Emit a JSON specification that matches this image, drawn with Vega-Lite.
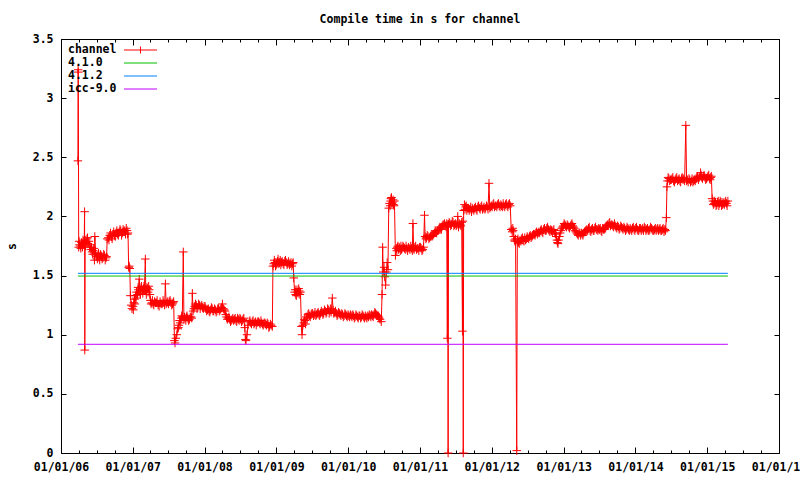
{
  "$schema": "https://vega.github.io/schema/vega-lite/v6.json",
  "autosize": "none",
  "width": 718,
  "height": 414,
  "padding": {"left": 61, "top": 39, "right": 21, "bottom": 27},
  "background": "white",
  "title": {"text": "Compile time in s for channel", "anchor": "middle", "frame": "group", "font": "DejaVu Sans Mono", "fontSize": 11.5, "fontWeight": "bold", "color": "black", "baseline": "middle", "offset": 2},
  "datasets": {
    "ch": [
      {"d":"2006-03-28","v":2.47,"s":"channel"},{"d":"2006-03-29","v":3.24,"s":"channel"},{"d":"2006-03-30","v":3.22,"s":"channel"},
      {"d":"2006-04-01","v":1.74,"s":"channel"},{"d":"2006-04-05","v":1.76,"s":"channel"},{"d":"2006-04-10","v":1.75,"s":"channel"},{"d":"2006-04-15","v":1.78,"s":"channel"},{"d":"2006-04-20","v":1.74,"s":"channel"},{"d":"2006-04-25","v":1.77,"s":"channel"},{"d":"2006-04-29","v":1.76,"s":"channel"},
      {"d":"2006-05-01","v":2.04,"s":"channel"},{"d":"2006-05-02","v":0.87,"s":"channel"},{"d":"2006-05-04","v":1.80,"s":"channel"},{"d":"2006-05-08","v":1.78,"s":"channel"},{"d":"2006-05-13","v":1.81,"s":"channel"},{"d":"2006-05-18","v":1.77,"s":"channel"},{"d":"2006-05-23","v":1.79,"s":"channel"},{"d":"2006-05-28","v":1.76,"s":"channel"},
      {"d":"2006-06-02","v":1.72,"s":"channel"},{"d":"2006-06-08","v":1.70,"s":"channel"},{"d":"2006-06-14","v":1.71,"s":"channel"},{"d":"2006-06-20","v":1.63,"s":"channel"},{"d":"2006-06-22","v":1.83,"s":"channel"},{"d":"2006-06-26","v":1.69,"s":"channel"},
      {"d":"2006-07-02","v":1.66,"s":"channel"},{"d":"2006-07-08","v":1.67,"s":"channel"},{"d":"2006-07-14","v":1.65,"s":"channel"},{"d":"2006-07-20","v":1.68,"s":"channel"},{"d":"2006-07-26","v":1.66,"s":"channel"},
      {"d":"2006-08-02","v":1.65,"s":"channel"},{"d":"2006-08-10","v":1.67,"s":"channel"},{"d":"2006-08-18","v":1.65,"s":"channel"},{"d":"2006-08-24","v":1.81,"s":"channel"},{"d":"2006-08-30","v":1.82,"s":"channel"},
      {"d":"2006-09-06","v":1.84,"s":"channel"},{"d":"2006-09-14","v":1.83,"s":"channel"},{"d":"2006-09-22","v":1.85,"s":"channel"},{"d":"2006-09-30","v":1.84,"s":"channel"},
      {"d":"2006-10-08","v":1.86,"s":"channel"},{"d":"2006-10-16","v":1.85,"s":"channel"},{"d":"2006-10-24","v":1.87,"s":"channel"},
      {"d":"2006-11-01","v":1.88,"s":"channel"},{"d":"2006-11-09","v":1.86,"s":"channel"},{"d":"2006-11-17","v":1.87,"s":"channel"},{"d":"2006-11-25","v":1.85,"s":"channel"},
      {"d":"2006-12-03","v":1.88,"s":"channel"},{"d":"2006-12-08","v":1.86,"s":"channel"},{"d":"2006-12-11","v":1.57,"s":"channel"},{"d":"2006-12-14","v":1.58,"s":"channel"},{"d":"2006-12-17","v":1.56,"s":"channel"},{"d":"2006-12-20","v":1.33,"s":"channel"},{"d":"2006-12-24","v":1.25,"s":"channel"},{"d":"2006-12-28","v":1.22,"s":"channel"},
      {"d":"2007-01-02","v":1.24,"s":"channel"},{"d":"2007-01-06","v":1.27,"s":"channel"},{"d":"2007-01-10","v":1.30,"s":"channel"},{"d":"2007-01-15","v":1.33,"s":"channel"},{"d":"2007-01-20","v":1.36,"s":"channel"},{"d":"2007-01-25","v":1.34,"s":"channel"},{"d":"2007-01-30","v":1.38,"s":"channel"},
      {"d":"2007-02-03","v":1.47,"s":"channel"},{"d":"2007-02-06","v":1.36,"s":"channel"},{"d":"2007-02-12","v":1.40,"s":"channel"},{"d":"2007-02-18","v":1.37,"s":"channel"},{"d":"2007-02-24","v":1.39,"s":"channel"},
      {"d":"2007-03-01","v":1.38,"s":"channel"},{"d":"2007-03-06","v":1.64,"s":"channel"},{"d":"2007-03-08","v":1.37,"s":"channel"},{"d":"2007-03-14","v":1.40,"s":"channel"},{"d":"2007-03-20","v":1.36,"s":"channel"},{"d":"2007-03-26","v":1.38,"s":"channel"},
      {"d":"2007-04-01","v":1.29,"s":"channel"},{"d":"2007-04-08","v":1.27,"s":"channel"},{"d":"2007-04-15","v":1.26,"s":"channel"},{"d":"2007-04-22","v":1.28,"s":"channel"},
      {"d":"2007-05-01","v":1.27,"s":"channel"},{"d":"2007-05-10","v":1.25,"s":"channel"},{"d":"2007-05-20","v":1.28,"s":"channel"},{"d":"2007-05-30","v":1.26,"s":"channel"},
      {"d":"2007-06-08","v":1.27,"s":"channel"},{"d":"2007-06-16","v":1.43,"s":"channel"},{"d":"2007-06-20","v":1.26,"s":"channel"},{"d":"2007-06-28","v":1.28,"s":"channel"},
      {"d":"2007-07-06","v":1.28,"s":"channel"},{"d":"2007-07-14","v":1.27,"s":"channel"},{"d":"2007-07-22","v":1.26,"s":"channel"},{"d":"2007-07-28","v":1.28,"s":"channel"},
      {"d":"2007-08-01","v":0.95,"s":"channel"},{"d":"2007-08-04","v":0.93,"s":"channel"},{"d":"2007-08-08","v":0.97,"s":"channel"},{"d":"2007-08-13","v":1.00,"s":"channel"},{"d":"2007-08-18","v":1.05,"s":"channel"},{"d":"2007-08-24","v":1.08,"s":"channel"},{"d":"2007-08-30","v":1.10,"s":"channel"},
      {"d":"2007-09-05","v":1.14,"s":"channel"},{"d":"2007-09-10","v":1.15,"s":"channel"},{"d":"2007-09-15","v":1.70,"s":"channel"},{"d":"2007-09-18","v":1.13,"s":"channel"},{"d":"2007-09-24","v":1.14,"s":"channel"},
      {"d":"2007-10-01","v":1.15,"s":"channel"},{"d":"2007-10-08","v":1.14,"s":"channel"},{"d":"2007-10-16","v":1.13,"s":"channel"},{"d":"2007-10-24","v":1.15,"s":"channel"},{"d":"2007-10-31","v":1.35,"s":"channel"},
      {"d":"2007-11-04","v":1.20,"s":"channel"},{"d":"2007-11-12","v":1.24,"s":"channel"},{"d":"2007-11-20","v":1.25,"s":"channel"},{"d":"2007-11-28","v":1.23,"s":"channel"},
      {"d":"2007-12-06","v":1.25,"s":"channel"},{"d":"2007-12-14","v":1.24,"s":"channel"},{"d":"2007-12-22","v":1.23,"s":"channel"},{"d":"2007-12-30","v":1.24,"s":"channel"},
      {"d":"2008-01-08","v":1.22,"s":"channel"},{"d":"2008-01-16","v":1.21,"s":"channel"},{"d":"2008-01-24","v":1.20,"s":"channel"},
      {"d":"2008-02-01","v":1.21,"s":"channel"},{"d":"2008-02-09","v":1.22,"s":"channel"},{"d":"2008-02-17","v":1.20,"s":"channel"},{"d":"2008-02-25","v":1.21,"s":"channel"},
      {"d":"2008-03-04","v":1.20,"s":"channel"},{"d":"2008-03-12","v":1.22,"s":"channel"},{"d":"2008-03-20","v":1.21,"s":"channel"},{"d":"2008-03-28","v":1.23,"s":"channel"},
      {"d":"2008-04-01","v":1.26,"s":"channel"},{"d":"2008-04-06","v":1.22,"s":"channel"},{"d":"2008-04-14","v":1.20,"s":"channel"},{"d":"2008-04-22","v":1.15,"s":"channel"},{"d":"2008-04-30","v":1.14,"s":"channel"},
      {"d":"2008-05-08","v":1.13,"s":"channel"},{"d":"2008-05-16","v":1.12,"s":"channel"},{"d":"2008-05-24","v":1.14,"s":"channel"},
      {"d":"2008-06-01","v":1.13,"s":"channel"},{"d":"2008-06-09","v":1.12,"s":"channel"},{"d":"2008-06-17","v":1.14,"s":"channel"},{"d":"2008-06-25","v":1.12,"s":"channel"},
      {"d":"2008-07-03","v":1.13,"s":"channel"},{"d":"2008-07-11","v":1.12,"s":"channel"},{"d":"2008-07-19","v":1.14,"s":"channel"},{"d":"2008-07-24","v":1.06,"s":"channel"},{"d":"2008-07-27","v":0.96,"s":"channel"},{"d":"2008-07-30","v":0.95,"s":"channel"},
      {"d":"2008-08-04","v":1.00,"s":"channel"},{"d":"2008-08-09","v":1.08,"s":"channel"},{"d":"2008-08-15","v":1.11,"s":"channel"},{"d":"2008-08-23","v":1.10,"s":"channel"},{"d":"2008-08-31","v":1.11,"s":"channel"},
      {"d":"2008-09-08","v":1.09,"s":"channel"},{"d":"2008-09-16","v":1.11,"s":"channel"},{"d":"2008-09-24","v":1.10,"s":"channel"},
      {"d":"2008-10-02","v":1.11,"s":"channel"},{"d":"2008-10-10","v":1.09,"s":"channel"},{"d":"2008-10-18","v":1.10,"s":"channel"},{"d":"2008-10-26","v":1.08,"s":"channel"},
      {"d":"2008-11-03","v":1.10,"s":"channel"},{"d":"2008-11-11","v":1.08,"s":"channel"},{"d":"2008-11-19","v":1.09,"s":"channel"},{"d":"2008-11-27","v":1.07,"s":"channel"},
      {"d":"2008-12-05","v":1.08,"s":"channel"},{"d":"2008-12-11","v":1.07,"s":"channel"},{"d":"2008-12-14","v":1.58,"s":"channel"},{"d":"2008-12-18","v":1.60,"s":"channel"},{"d":"2008-12-24","v":1.61,"s":"channel"},{"d":"2008-12-30","v":1.59,"s":"channel"},
      {"d":"2009-01-06","v":1.62,"s":"channel"},{"d":"2009-01-13","v":1.60,"s":"channel"},{"d":"2009-01-20","v":1.63,"s":"channel"},{"d":"2009-01-27","v":1.61,"s":"channel"},
      {"d":"2009-02-04","v":1.60,"s":"channel"},{"d":"2009-02-12","v":1.62,"s":"channel"},{"d":"2009-02-20","v":1.61,"s":"channel"},{"d":"2009-02-28","v":1.60,"s":"channel"},
      {"d":"2009-03-08","v":1.59,"s":"channel"},{"d":"2009-03-16","v":1.61,"s":"channel"},{"d":"2009-03-24","v":1.60,"s":"channel"},{"d":"2009-03-30","v":1.48,"s":"channel"},
      {"d":"2009-04-03","v":1.36,"s":"channel"},{"d":"2009-04-09","v":1.34,"s":"channel"},{"d":"2009-04-15","v":1.38,"s":"channel"},{"d":"2009-04-21","v":1.35,"s":"channel"},{"d":"2009-04-27","v":1.37,"s":"channel"},
      {"d":"2009-05-03","v":1.36,"s":"channel"},{"d":"2009-05-08","v":1.07,"s":"channel"},{"d":"2009-05-11","v":1.00,"s":"channel"},{"d":"2009-05-15","v":1.08,"s":"channel"},{"d":"2009-05-20","v":1.10,"s":"channel"},{"d":"2009-05-26","v":1.12,"s":"channel"},
      {"d":"2009-06-02","v":1.15,"s":"channel"},{"d":"2009-06-10","v":1.17,"s":"channel"},{"d":"2009-06-18","v":1.16,"s":"channel"},{"d":"2009-06-26","v":1.17,"s":"channel"},
      {"d":"2009-07-04","v":1.18,"s":"channel"},{"d":"2009-07-12","v":1.17,"s":"channel"},{"d":"2009-07-20","v":1.16,"s":"channel"},{"d":"2009-07-28","v":1.18,"s":"channel"},
      {"d":"2009-08-05","v":1.17,"s":"channel"},{"d":"2009-08-13","v":1.18,"s":"channel"},{"d":"2009-08-21","v":1.19,"s":"channel"},{"d":"2009-08-29","v":1.18,"s":"channel"},
      {"d":"2009-09-06","v":1.20,"s":"channel"},{"d":"2009-09-14","v":1.19,"s":"channel"},{"d":"2009-09-22","v":1.21,"s":"channel"},{"d":"2009-09-30","v":1.20,"s":"channel"},
      {"d":"2009-10-06","v":1.19,"s":"channel"},{"d":"2009-10-12","v":1.31,"s":"channel"},{"d":"2009-10-16","v":1.21,"s":"channel"},{"d":"2009-10-24","v":1.19,"s":"channel"},
      {"d":"2009-11-01","v":1.18,"s":"channel"},{"d":"2009-11-09","v":1.17,"s":"channel"},{"d":"2009-11-17","v":1.18,"s":"channel"},{"d":"2009-11-25","v":1.16,"s":"channel"},
      {"d":"2009-12-03","v":1.17,"s":"channel"},{"d":"2009-12-11","v":1.16,"s":"channel"},{"d":"2009-12-19","v":1.17,"s":"channel"},{"d":"2009-12-27","v":1.15,"s":"channel"},
      {"d":"2010-01-04","v":1.16,"s":"channel"},{"d":"2010-01-12","v":1.17,"s":"channel"},{"d":"2010-01-20","v":1.15,"s":"channel"},{"d":"2010-01-28","v":1.16,"s":"channel"},
      {"d":"2010-02-05","v":1.15,"s":"channel"},{"d":"2010-02-13","v":1.16,"s":"channel"},{"d":"2010-02-21","v":1.14,"s":"channel"},
      {"d":"2010-03-01","v":1.16,"s":"channel"},{"d":"2010-03-09","v":1.15,"s":"channel"},{"d":"2010-03-17","v":1.16,"s":"channel"},{"d":"2010-03-25","v":1.14,"s":"channel"},
      {"d":"2010-04-02","v":1.15,"s":"channel"},{"d":"2010-04-10","v":1.16,"s":"channel"},{"d":"2010-04-18","v":1.17,"s":"channel"},{"d":"2010-04-26","v":1.15,"s":"channel"},
      {"d":"2010-05-04","v":1.16,"s":"channel"},{"d":"2010-05-12","v":1.17,"s":"channel"},{"d":"2010-05-20","v":1.18,"s":"channel"},{"d":"2010-05-28","v":1.16,"s":"channel"},
      {"d":"2010-06-05","v":1.15,"s":"channel"},{"d":"2010-06-12","v":1.13,"s":"channel"},{"d":"2010-06-18","v":1.11,"s":"channel"},{"d":"2010-06-22","v":1.34,"s":"channel"},{"d":"2010-06-25","v":1.74,"s":"channel"},{"d":"2010-06-28","v":1.53,"s":"channel"},
      {"d":"2010-07-02","v":1.57,"s":"channel"},{"d":"2010-07-06","v":1.49,"s":"channel"},{"d":"2010-07-10","v":1.42,"s":"channel"},{"d":"2010-07-14","v":1.53,"s":"channel"},{"d":"2010-07-18","v":1.61,"s":"channel"},{"d":"2010-07-22","v":1.55,"s":"channel"},{"d":"2010-07-26","v":2.07,"s":"channel"},{"d":"2010-07-30","v":2.11,"s":"channel"},
      {"d":"2010-08-04","v":2.13,"s":"channel"},{"d":"2010-08-09","v":2.16,"s":"channel"},{"d":"2010-08-14","v":2.12,"s":"channel"},{"d":"2010-08-19","v":2.10,"s":"channel"},{"d":"2010-08-24","v":2.13,"s":"channel"},{"d":"2010-08-29","v":1.67,"s":"channel"},
      {"d":"2010-09-03","v":1.73,"s":"channel"},{"d":"2010-09-08","v":1.74,"s":"channel"},{"d":"2010-09-14","v":1.72,"s":"channel"},{"d":"2010-09-20","v":1.73,"s":"channel"},{"d":"2010-09-26","v":1.75,"s":"channel"},
      {"d":"2010-10-02","v":1.73,"s":"channel"},{"d":"2010-10-10","v":1.74,"s":"channel"},{"d":"2010-10-18","v":1.72,"s":"channel"},{"d":"2010-10-26","v":1.73,"s":"channel"},
      {"d":"2010-11-03","v":1.74,"s":"channel"},{"d":"2010-11-11","v":1.72,"s":"channel"},{"d":"2010-11-19","v":1.73,"s":"channel"},{"d":"2010-11-26","v":1.94,"s":"channel"},{"d":"2010-11-30","v":1.73,"s":"channel"},
      {"d":"2010-12-06","v":1.74,"s":"channel"},{"d":"2010-12-14","v":1.72,"s":"channel"},{"d":"2010-12-22","v":1.73,"s":"channel"},{"d":"2010-12-30","v":1.74,"s":"channel"},
      {"d":"2011-01-07","v":1.73,"s":"channel"},{"d":"2011-01-15","v":1.72,"s":"channel"},{"d":"2011-01-24","v":2.01,"s":"channel"},{"d":"2011-01-27","v":1.83,"s":"channel"},
      {"d":"2011-02-03","v":1.82,"s":"channel"},{"d":"2011-02-11","v":1.83,"s":"channel"},{"d":"2011-02-19","v":1.82,"s":"channel"},{"d":"2011-02-27","v":1.84,"s":"channel"},
      {"d":"2011-03-07","v":1.84,"s":"channel"},{"d":"2011-03-15","v":1.86,"s":"channel"},{"d":"2011-03-23","v":1.87,"s":"channel"},{"d":"2011-03-31","v":1.88,"s":"channel"},
      {"d":"2011-04-08","v":1.89,"s":"channel"},{"d":"2011-04-16","v":1.90,"s":"channel"},{"d":"2011-04-24","v":1.92,"s":"channel"},
      {"d":"2011-05-02","v":1.93,"s":"channel"},{"d":"2011-05-10","v":1.92,"s":"channel"},{"d":"2011-05-17","v":1.94,"s":"channel"},{"d":"2011-05-20","v":0.97,"s":"channel"},{"d":"2011-05-22","v":1.93,"s":"channel"},{"d":"2011-05-24","v":0.00,"s":"channel"},{"d":"2011-05-26","v":1.93,"s":"channel"},
      {"d":"2011-06-02","v":1.94,"s":"channel"},{"d":"2011-06-10","v":1.93,"s":"channel"},{"d":"2011-06-18","v":1.95,"s":"channel"},{"d":"2011-06-26","v":1.93,"s":"channel"},
      {"d":"2011-07-04","v":1.92,"s":"channel"},{"d":"2011-07-12","v":2.00,"s":"channel"},{"d":"2011-07-16","v":1.91,"s":"channel"},{"d":"2011-07-24","v":1.93,"s":"channel"},
      {"d":"2011-08-01","v":1.95,"s":"channel"},{"d":"2011-08-05","v":1.03,"s":"channel"},{"d":"2011-08-07","v":1.96,"s":"channel"},{"d":"2011-08-09","v":0.00,"s":"channel"},{"d":"2011-08-11","v":2.05,"s":"channel"},{"d":"2011-08-15","v":2.10,"s":"channel"},{"d":"2011-08-21","v":2.08,"s":"channel"},{"d":"2011-08-27","v":2.05,"s":"channel"},
      {"d":"2011-09-04","v":2.07,"s":"channel"},{"d":"2011-09-12","v":2.06,"s":"channel"},{"d":"2011-09-20","v":2.04,"s":"channel"},{"d":"2011-09-28","v":2.06,"s":"channel"},
      {"d":"2011-10-06","v":2.07,"s":"channel"},{"d":"2011-10-14","v":2.06,"s":"channel"},{"d":"2011-10-22","v":2.08,"s":"channel"},{"d":"2011-10-30","v":2.07,"s":"channel"},
      {"d":"2011-11-07","v":2.08,"s":"channel"},{"d":"2011-11-15","v":2.06,"s":"channel"},{"d":"2011-11-23","v":2.08,"s":"channel"},
      {"d":"2011-12-01","v":2.07,"s":"channel"},{"d":"2011-12-09","v":2.08,"s":"channel"},{"d":"2011-12-18","v":2.28,"s":"channel"},{"d":"2011-12-22","v":2.07,"s":"channel"},{"d":"2011-12-30","v":2.09,"s":"channel"},
      {"d":"2012-01-07","v":2.10,"s":"channel"},{"d":"2012-01-15","v":2.08,"s":"channel"},{"d":"2012-01-23","v":2.09,"s":"channel"},{"d":"2012-01-31","v":2.10,"s":"channel"},
      {"d":"2012-02-08","v":2.09,"s":"channel"},{"d":"2012-02-16","v":2.10,"s":"channel"},{"d":"2012-02-24","v":2.08,"s":"channel"},
      {"d":"2012-03-03","v":2.09,"s":"channel"},{"d":"2012-03-11","v":2.10,"s":"channel"},{"d":"2012-03-19","v":2.09,"s":"channel"},{"d":"2012-03-27","v":2.10,"s":"channel"},
      {"d":"2012-04-04","v":2.09,"s":"channel"},{"d":"2012-04-09","v":1.89,"s":"channel"},{"d":"2012-04-14","v":1.87,"s":"channel"},{"d":"2012-04-19","v":1.88,"s":"channel"},{"d":"2012-04-25","v":1.80,"s":"channel"},
      {"d":"2012-05-01","v":1.81,"s":"channel"},{"d":"2012-05-07","v":0.02,"s":"channel"},{"d":"2012-05-10","v":1.79,"s":"channel"},{"d":"2012-05-16","v":1.78,"s":"channel"},{"d":"2012-05-24","v":1.80,"s":"channel"},
      {"d":"2012-06-01","v":1.81,"s":"channel"},{"d":"2012-06-09","v":1.80,"s":"channel"},{"d":"2012-06-17","v":1.82,"s":"channel"},{"d":"2012-06-25","v":1.81,"s":"channel"},
      {"d":"2012-07-03","v":1.82,"s":"channel"},{"d":"2012-07-11","v":1.83,"s":"channel"},{"d":"2012-07-19","v":1.82,"s":"channel"},{"d":"2012-07-27","v":1.84,"s":"channel"},
      {"d":"2012-08-04","v":1.85,"s":"channel"},{"d":"2012-08-12","v":1.86,"s":"channel"},{"d":"2012-08-20","v":1.85,"s":"channel"},{"d":"2012-08-28","v":1.87,"s":"channel"},
      {"d":"2012-09-05","v":1.88,"s":"channel"},{"d":"2012-09-13","v":1.87,"s":"channel"},{"d":"2012-09-21","v":1.89,"s":"channel"},{"d":"2012-09-29","v":1.88,"s":"channel"},
      {"d":"2012-10-07","v":1.90,"s":"channel"},{"d":"2012-10-15","v":1.89,"s":"channel"},{"d":"2012-10-23","v":1.87,"s":"channel"},{"d":"2012-10-31","v":1.88,"s":"channel"},
      {"d":"2012-11-08","v":1.88,"s":"channel"},{"d":"2012-11-16","v":1.86,"s":"channel"},{"d":"2012-11-24","v":1.83,"s":"channel"},{"d":"2012-11-30","v":1.78,"s":"channel"},
      {"d":"2012-12-06","v":1.80,"s":"channel"},{"d":"2012-12-14","v":1.86,"s":"channel"},{"d":"2012-12-22","v":1.90,"s":"channel"},{"d":"2012-12-30","v":1.92,"s":"channel"},
      {"d":"2013-01-07","v":1.93,"s":"channel"},{"d":"2013-01-15","v":1.91,"s":"channel"},{"d":"2013-01-23","v":1.92,"s":"channel"},{"d":"2013-01-31","v":1.90,"s":"channel"},
      {"d":"2013-02-08","v":1.93,"s":"channel"},{"d":"2013-02-16","v":1.92,"s":"channel"},{"d":"2013-02-24","v":1.90,"s":"channel"},
      {"d":"2013-03-04","v":1.87,"s":"channel"},{"d":"2013-03-12","v":1.85,"s":"channel"},{"d":"2013-03-20","v":1.86,"s":"channel"},{"d":"2013-03-28","v":1.84,"s":"channel"},
      {"d":"2013-04-05","v":1.85,"s":"channel"},{"d":"2013-04-13","v":1.86,"s":"channel"},{"d":"2013-04-21","v":1.87,"s":"channel"},{"d":"2013-04-29","v":1.89,"s":"channel"},
      {"d":"2013-05-07","v":1.90,"s":"channel"},{"d":"2013-05-15","v":1.88,"s":"channel"},{"d":"2013-05-23","v":1.89,"s":"channel"},{"d":"2013-05-31","v":1.88,"s":"channel"},
      {"d":"2013-06-08","v":1.90,"s":"channel"},{"d":"2013-06-16","v":1.89,"s":"channel"},{"d":"2013-06-24","v":1.88,"s":"channel"},
      {"d":"2013-07-02","v":1.89,"s":"channel"},{"d":"2013-07-10","v":1.88,"s":"channel"},{"d":"2013-07-18","v":1.90,"s":"channel"},{"d":"2013-07-26","v":1.89,"s":"channel"},
      {"d":"2013-08-03","v":1.91,"s":"channel"},{"d":"2013-08-11","v":1.93,"s":"channel"},{"d":"2013-08-19","v":1.94,"s":"channel"},{"d":"2013-08-27","v":1.92,"s":"channel"},
      {"d":"2013-09-04","v":1.93,"s":"channel"},{"d":"2013-09-12","v":1.91,"s":"channel"},{"d":"2013-09-20","v":1.92,"s":"channel"},{"d":"2013-09-28","v":1.90,"s":"channel"},
      {"d":"2013-10-06","v":1.91,"s":"channel"},{"d":"2013-10-14","v":1.90,"s":"channel"},{"d":"2013-10-22","v":1.91,"s":"channel"},{"d":"2013-10-30","v":1.89,"s":"channel"},
      {"d":"2013-11-07","v":1.90,"s":"channel"},{"d":"2013-11-15","v":1.89,"s":"channel"},{"d":"2013-11-23","v":1.90,"s":"channel"},
      {"d":"2013-12-01","v":1.88,"s":"channel"},{"d":"2013-12-09","v":1.89,"s":"channel"},{"d":"2013-12-17","v":1.90,"s":"channel"},{"d":"2013-12-25","v":1.89,"s":"channel"},
      {"d":"2014-01-02","v":1.90,"s":"channel"},{"d":"2014-01-10","v":1.89,"s":"channel"},{"d":"2014-01-18","v":1.88,"s":"channel"},{"d":"2014-01-26","v":1.90,"s":"channel"},
      {"d":"2014-02-03","v":1.89,"s":"channel"},{"d":"2014-02-11","v":1.88,"s":"channel"},{"d":"2014-02-19","v":1.90,"s":"channel"},{"d":"2014-02-27","v":1.89,"s":"channel"},
      {"d":"2014-03-07","v":1.88,"s":"channel"},{"d":"2014-03-15","v":1.89,"s":"channel"},{"d":"2014-03-23","v":1.90,"s":"channel"},{"d":"2014-03-31","v":1.88,"s":"channel"},
      {"d":"2014-04-08","v":1.89,"s":"channel"},{"d":"2014-04-16","v":1.88,"s":"channel"},{"d":"2014-04-24","v":1.90,"s":"channel"},
      {"d":"2014-05-02","v":1.89,"s":"channel"},{"d":"2014-05-10","v":1.88,"s":"channel"},{"d":"2014-05-18","v":1.89,"s":"channel"},{"d":"2014-05-26","v":1.87,"s":"channel"},
      {"d":"2014-06-03","v":1.88,"s":"channel"},{"d":"2014-06-07","v":1.99,"s":"channel"},{"d":"2014-06-10","v":2.25,"s":"channel"},{"d":"2014-06-13","v":2.30,"s":"channel"},{"d":"2014-06-20","v":2.32,"s":"channel"},{"d":"2014-06-28","v":2.31,"s":"channel"},
      {"d":"2014-07-06","v":2.32,"s":"channel"},{"d":"2014-07-14","v":2.30,"s":"channel"},{"d":"2014-07-22","v":2.31,"s":"channel"},{"d":"2014-07-30","v":2.33,"s":"channel"},
      {"d":"2014-08-07","v":2.31,"s":"channel"},{"d":"2014-08-15","v":2.30,"s":"channel"},{"d":"2014-08-23","v":2.32,"s":"channel"},{"d":"2014-08-31","v":2.31,"s":"channel"},
      {"d":"2014-09-08","v":2.30,"s":"channel"},{"d":"2014-09-14","v":2.77,"s":"channel"},{"d":"2014-09-18","v":2.30,"s":"channel"},{"d":"2014-09-26","v":2.29,"s":"channel"},
      {"d":"2014-10-04","v":2.31,"s":"channel"},{"d":"2014-10-12","v":2.30,"s":"channel"},{"d":"2014-10-20","v":2.29,"s":"channel"},{"d":"2014-10-28","v":2.31,"s":"channel"},
      {"d":"2014-11-05","v":2.32,"s":"channel"},{"d":"2014-11-13","v":2.34,"s":"channel"},{"d":"2014-11-21","v":2.33,"s":"channel"},{"d":"2014-11-28","v":2.37,"s":"channel"},
      {"d":"2014-12-04","v":2.33,"s":"channel"},{"d":"2014-12-12","v":2.34,"s":"channel"},{"d":"2014-12-20","v":2.33,"s":"channel"},{"d":"2014-12-28","v":2.32,"s":"channel"},
      {"d":"2015-01-05","v":2.34,"s":"channel"},{"d":"2015-01-12","v":2.32,"s":"channel"},{"d":"2015-01-19","v":2.33,"s":"channel"},{"d":"2015-01-26","v":2.15,"s":"channel"},{"d":"2015-01-30","v":2.13,"s":"channel"},
      {"d":"2015-02-05","v":2.11,"s":"channel"},{"d":"2015-02-12","v":2.12,"s":"channel"},{"d":"2015-02-19","v":2.10,"s":"channel"},{"d":"2015-02-26","v":2.13,"s":"channel"},
      {"d":"2015-03-05","v":2.11,"s":"channel"},{"d":"2015-03-12","v":2.12,"s":"channel"},{"d":"2015-03-19","v":2.10,"s":"channel"},{"d":"2015-03-26","v":2.11,"s":"channel"},
      {"d":"2015-04-02","v":2.12,"s":"channel"},{"d":"2015-04-09","v":2.11,"s":"channel"},{"d":"2015-04-16","v":2.13,"s":"channel"},
      {"d":"2006-04-03","v":1.79,"s":"channel"},{"d":"2006-04-12","v":1.73,"s":"channel"},{"d":"2006-04-23","v":1.80,"s":"channel"},{"d":"2006-05-06","v":1.75,"s":"channel"},{"d":"2006-05-16","v":1.82,"s":"channel"},{"d":"2006-05-26","v":1.74,"s":"channel"},
      {"d":"2006-06-05","v":1.74,"s":"channel"},{"d":"2006-06-11","v":1.68,"s":"channel"},{"d":"2006-06-17","v":1.73,"s":"channel"},{"d":"2006-07-05","v":1.64,"s":"channel"},{"d":"2006-07-11","v":1.69,"s":"channel"},{"d":"2006-07-17","v":1.63,"s":"channel"},
      {"d":"2006-07-23","v":1.67,"s":"channel"},{"d":"2006-07-29","v":1.64,"s":"channel"},{"d":"2006-08-06","v":1.68,"s":"channel"},{"d":"2006-08-14","v":1.63,"s":"channel"},{"d":"2006-08-21","v":1.66,"s":"channel"},
      {"d":"2006-09-02","v":1.80,"s":"channel"},{"d":"2006-09-10","v":1.86,"s":"channel"},{"d":"2006-09-18","v":1.81,"s":"channel"},{"d":"2006-09-26","v":1.87,"s":"channel"},{"d":"2006-10-04","v":1.83,"s":"channel"},
      {"d":"2006-10-12","v":1.88,"s":"channel"},{"d":"2006-10-20","v":1.84,"s":"channel"},{"d":"2006-10-28","v":1.89,"s":"channel"},{"d":"2006-11-05","v":1.84,"s":"channel"},{"d":"2006-11-13","v":1.89,"s":"channel"},
      {"d":"2006-11-21","v":1.88,"s":"channel"},{"d":"2006-11-29","v":1.90,"s":"channel"},{"d":"2006-12-05","v":1.85,"s":"channel"},
      {"d":"2007-01-04","v":1.21,"s":"channel"},{"d":"2007-01-12","v":1.26,"s":"channel"},{"d":"2007-01-18","v":1.31,"s":"channel"},{"d":"2007-01-28","v":1.40,"s":"channel"},{"d":"2007-02-09","v":1.34,"s":"channel"},
      {"d":"2007-02-15","v":1.41,"s":"channel"},{"d":"2007-02-21","v":1.35,"s":"channel"},{"d":"2007-02-27","v":1.41,"s":"channel"},{"d":"2007-03-11","v":1.34,"s":"channel"},{"d":"2007-03-17","v":1.39,"s":"channel"},
      {"d":"2007-03-23","v":1.41,"s":"channel"},{"d":"2007-03-29","v":1.34,"s":"channel"},{"d":"2007-04-04","v":1.26,"s":"channel"},{"d":"2007-04-11","v":1.29,"s":"channel"},{"d":"2007-04-18","v":1.25,"s":"channel"},
      {"d":"2007-04-26","v":1.27,"s":"channel"},{"d":"2007-05-05","v":1.29,"s":"channel"},{"d":"2007-05-15","v":1.24,"s":"channel"},{"d":"2007-05-25","v":1.26,"s":"channel"},{"d":"2007-06-04","v":1.29,"s":"channel"},
      {"d":"2007-06-12","v":1.25,"s":"channel"},{"d":"2007-06-24","v":1.27,"s":"channel"},{"d":"2007-07-02","v":1.26,"s":"channel"},{"d":"2007-07-10","v":1.29,"s":"channel"},{"d":"2007-07-18","v":1.25,"s":"channel"},
      {"d":"2007-07-25","v":1.27,"s":"channel"},{"d":"2007-08-21","v":1.06,"s":"channel"},{"d":"2007-08-27","v":1.12,"s":"channel"},{"d":"2007-09-02","v":1.12,"s":"channel"},{"d":"2007-09-07","v":1.16,"s":"channel"},
      {"d":"2007-09-21","v":1.15,"s":"channel"},{"d":"2007-09-28","v":1.12,"s":"channel"},{"d":"2007-10-04","v":1.16,"s":"channel"},{"d":"2007-10-12","v":1.12,"s":"channel"},{"d":"2007-10-20","v":1.15,"s":"channel"},
      {"d":"2007-10-28","v":1.14,"s":"channel"},{"d":"2007-11-08","v":1.22,"s":"channel"},{"d":"2007-11-16","v":1.26,"s":"channel"},{"d":"2007-11-24","v":1.22,"s":"channel"},{"d":"2007-12-02","v":1.26,"s":"channel"},
      {"d":"2007-12-10","v":1.22,"s":"channel"},{"d":"2007-12-18","v":1.25,"s":"channel"},{"d":"2007-12-26","v":1.22,"s":"channel"},
      {"d":"2008-01-04","v":1.24,"s":"channel"},{"d":"2008-01-12","v":1.20,"s":"channel"},{"d":"2008-01-20","v":1.22,"s":"channel"},{"d":"2008-01-28","v":1.19,"s":"channel"},{"d":"2008-02-05","v":1.23,"s":"channel"},
      {"d":"2008-02-13","v":1.20,"s":"channel"},{"d":"2008-02-21","v":1.22,"s":"channel"},{"d":"2008-02-29","v":1.19,"s":"channel"},{"d":"2008-03-08","v":1.22,"s":"channel"},{"d":"2008-03-16","v":1.20,"s":"channel"},
      {"d":"2008-03-24","v":1.22,"s":"channel"},{"d":"2008-04-10","v":1.21,"s":"channel"},{"d":"2008-04-18","v":1.17,"s":"channel"},{"d":"2008-04-26","v":1.13,"s":"channel"},{"d":"2008-05-04","v":1.15,"s":"channel"},
      {"d":"2008-05-12","v":1.11,"s":"channel"},{"d":"2008-05-20","v":1.13,"s":"channel"},{"d":"2008-05-28","v":1.12,"s":"channel"},{"d":"2008-06-05","v":1.14,"s":"channel"},{"d":"2008-06-13","v":1.11,"s":"channel"},
      {"d":"2008-06-21","v":1.13,"s":"channel"},{"d":"2008-06-29","v":1.14,"s":"channel"},{"d":"2008-07-07","v":1.11,"s":"channel"},{"d":"2008-07-15","v":1.13,"s":"channel"},{"d":"2008-08-19","v":1.12,"s":"channel"},
      {"d":"2008-08-27","v":1.09,"s":"channel"},{"d":"2008-09-04","v":1.12,"s":"channel"},{"d":"2008-09-12","v":1.10,"s":"channel"},{"d":"2008-09-20","v":1.08,"s":"channel"},{"d":"2008-09-28","v":1.11,"s":"channel"},
      {"d":"2008-10-06","v":1.10,"s":"channel"},{"d":"2008-10-14","v":1.12,"s":"channel"},{"d":"2008-10-22","v":1.09,"s":"channel"},{"d":"2008-10-30","v":1.10,"s":"channel"},{"d":"2008-11-07","v":1.09,"s":"channel"},
      {"d":"2008-11-15","v":1.10,"s":"channel"},{"d":"2008-11-23","v":1.06,"s":"channel"},{"d":"2008-12-01","v":1.09,"s":"channel"},{"d":"2008-12-21","v":1.63,"s":"channel"},{"d":"2008-12-27","v":1.58,"s":"channel"},
      {"d":"2009-01-03","v":1.60,"s":"channel"},{"d":"2009-01-09","v":1.64,"s":"channel"},{"d":"2009-01-16","v":1.61,"s":"channel"},{"d":"2009-01-23","v":1.59,"s":"channel"},{"d":"2009-01-30","v":1.62,"s":"channel"},
      {"d":"2009-02-08","v":1.59,"s":"channel"},{"d":"2009-02-16","v":1.63,"s":"channel"},{"d":"2009-02-24","v":1.59,"s":"channel"},{"d":"2009-03-04","v":1.62,"s":"channel"},{"d":"2009-03-12","v":1.60,"s":"channel"},
      {"d":"2009-03-20","v":1.58,"s":"channel"},{"d":"2009-03-27","v":1.61,"s":"channel"},{"d":"2009-04-06","v":1.38,"s":"channel"},{"d":"2009-04-12","v":1.33,"s":"channel"},{"d":"2009-04-18","v":1.36,"s":"channel"},
      {"d":"2009-04-24","v":1.39,"s":"channel"},{"d":"2009-04-30","v":1.34,"s":"channel"},{"d":"2009-05-23","v":1.13,"s":"channel"},{"d":"2009-05-29","v":1.09,"s":"channel"},{"d":"2009-06-06","v":1.14,"s":"channel"},
      {"d":"2009-06-14","v":1.18,"s":"channel"},{"d":"2009-06-22","v":1.15,"s":"channel"},{"d":"2009-06-30","v":1.18,"s":"channel"},{"d":"2009-07-08","v":1.16,"s":"channel"},{"d":"2009-07-16","v":1.19,"s":"channel"},
      {"d":"2009-07-24","v":1.17,"s":"channel"},{"d":"2009-08-01","v":1.19,"s":"channel"},{"d":"2009-08-09","v":1.16,"s":"channel"},{"d":"2009-08-17","v":1.20,"s":"channel"},{"d":"2009-08-25","v":1.17,"s":"channel"},
      {"d":"2009-09-02","v":1.21,"s":"channel"},{"d":"2009-09-10","v":1.18,"s":"channel"},{"d":"2009-09-18","v":1.22,"s":"channel"},{"d":"2009-09-26","v":1.18,"s":"channel"},{"d":"2009-10-02","v":1.22,"s":"channel"},
      {"d":"2009-10-20","v":1.18,"s":"channel"},{"d":"2009-10-28","v":1.20,"s":"channel"},{"d":"2009-11-05","v":1.16,"s":"channel"},{"d":"2009-11-13","v":1.19,"s":"channel"},{"d":"2009-11-21","v":1.17,"s":"channel"},
      {"d":"2009-11-29","v":1.18,"s":"channel"},{"d":"2009-12-07","v":1.15,"s":"channel"},{"d":"2009-12-15","v":1.18,"s":"channel"},{"d":"2009-12-23","v":1.16,"s":"channel"},{"d":"2009-12-31","v":1.17,"s":"channel"},
      {"d":"2010-01-08","v":1.15,"s":"channel"},{"d":"2010-01-16","v":1.16,"s":"channel"},{"d":"2010-01-24","v":1.17,"s":"channel"},{"d":"2010-02-01","v":1.14,"s":"channel"},{"d":"2010-02-09","v":1.17,"s":"channel"},
      {"d":"2010-02-17","v":1.15,"s":"channel"},{"d":"2010-02-25","v":1.16,"s":"channel"},{"d":"2010-03-05","v":1.14,"s":"channel"},{"d":"2010-03-13","v":1.17,"s":"channel"},{"d":"2010-03-21","v":1.15,"s":"channel"},
      {"d":"2010-03-29","v":1.16,"s":"channel"},{"d":"2010-04-06","v":1.14,"s":"channel"},{"d":"2010-04-14","v":1.15,"s":"channel"},{"d":"2010-04-22","v":1.16,"s":"channel"},{"d":"2010-04-30","v":1.17,"s":"channel"},
      {"d":"2010-05-08","v":1.15,"s":"channel"},{"d":"2010-05-16","v":1.19,"s":"channel"},{"d":"2010-05-24","v":1.17,"s":"channel"},{"d":"2010-06-01","v":1.16,"s":"channel"},{"d":"2010-06-08","v":1.14,"s":"channel"},
      {"d":"2010-08-02","v":2.09,"s":"channel"},{"d":"2010-08-06","v":2.15,"s":"channel"},{"d":"2010-08-11","v":2.11,"s":"channel"},{"d":"2010-08-17","v":2.14,"s":"channel"},{"d":"2010-08-22","v":2.09,"s":"channel"},
      {"d":"2010-09-05","v":1.71,"s":"channel"},{"d":"2010-09-11","v":1.75,"s":"channel"},{"d":"2010-09-17","v":1.74,"s":"channel"},{"d":"2010-09-23","v":1.71,"s":"channel"},{"d":"2010-09-29","v":1.72,"s":"channel"},
      {"d":"2010-10-06","v":1.75,"s":"channel"},{"d":"2010-10-14","v":1.73,"s":"channel"},{"d":"2010-10-22","v":1.75,"s":"channel"},{"d":"2010-10-30","v":1.71,"s":"channel"},{"d":"2010-11-07","v":1.73,"s":"channel"},
      {"d":"2010-11-15","v":1.75,"s":"channel"},{"d":"2010-11-23","v":1.71,"s":"channel"},{"d":"2010-12-02","v":1.72,"s":"channel"},{"d":"2010-12-10","v":1.75,"s":"channel"},{"d":"2010-12-18","v":1.73,"s":"channel"},
      {"d":"2010-12-26","v":1.71,"s":"channel"},
      {"d":"2011-01-03","v":1.74,"s":"channel"},{"d":"2011-01-11","v":1.71,"s":"channel"},{"d":"2011-01-19","v":1.74,"s":"channel"},{"d":"2011-01-31","v":1.81,"s":"channel"},{"d":"2011-02-07","v":1.84,"s":"channel"},
      {"d":"2011-02-15","v":1.81,"s":"channel"},{"d":"2011-02-23","v":1.83,"s":"channel"},{"d":"2011-03-03","v":1.83,"s":"channel"},{"d":"2011-03-11","v":1.85,"s":"channel"},{"d":"2011-03-19","v":1.88,"s":"channel"},
      {"d":"2011-03-27","v":1.86,"s":"channel"},{"d":"2011-04-04","v":1.88,"s":"channel"},{"d":"2011-04-12","v":1.91,"s":"channel"},{"d":"2011-04-20","v":1.89,"s":"channel"},{"d":"2011-04-28","v":1.93,"s":"channel"},
      {"d":"2011-05-06","v":1.94,"s":"channel"},{"d":"2011-05-14","v":1.91,"s":"channel"},{"d":"2011-05-29","v":1.95,"s":"channel"},{"d":"2011-06-06","v":1.92,"s":"channel"},{"d":"2011-06-14","v":1.96,"s":"channel"},
      {"d":"2011-06-22","v":1.92,"s":"channel"},{"d":"2011-06-30","v":1.94,"s":"channel"},{"d":"2011-07-08","v":1.93,"s":"channel"},{"d":"2011-07-20","v":1.94,"s":"channel"},{"d":"2011-07-28","v":1.92,"s":"channel"},
      {"d":"2011-08-18","v":2.06,"s":"channel"},{"d":"2011-08-24","v":2.09,"s":"channel"},{"d":"2011-08-30","v":2.07,"s":"channel"},{"d":"2011-09-08","v":2.05,"s":"channel"},{"d":"2011-09-16","v":2.08,"s":"channel"},
      {"d":"2011-09-24","v":2.07,"s":"channel"},{"d":"2011-10-02","v":2.05,"s":"channel"},{"d":"2011-10-10","v":2.08,"s":"channel"},{"d":"2011-10-18","v":2.05,"s":"channel"},{"d":"2011-10-26","v":2.09,"s":"channel"},
      {"d":"2011-11-03","v":2.06,"s":"channel"},{"d":"2011-11-11","v":2.09,"s":"channel"},{"d":"2011-11-19","v":2.07,"s":"channel"},{"d":"2011-11-27","v":2.06,"s":"channel"},{"d":"2011-12-05","v":2.09,"s":"channel"},
      {"d":"2011-12-13","v":2.06,"s":"channel"},{"d":"2011-12-26","v":2.08,"s":"channel"},
      {"d":"2012-01-03","v":2.08,"s":"channel"},{"d":"2012-01-11","v":2.11,"s":"channel"},{"d":"2012-01-19","v":2.09,"s":"channel"},{"d":"2012-01-27","v":2.08,"s":"channel"},{"d":"2012-02-04","v":2.11,"s":"channel"},
      {"d":"2012-02-12","v":2.08,"s":"channel"},{"d":"2012-02-20","v":2.09,"s":"channel"},{"d":"2012-02-28","v":2.11,"s":"channel"},{"d":"2012-03-07","v":2.08,"s":"channel"},{"d":"2012-03-15","v":2.11,"s":"channel"},
      {"d":"2012-03-23","v":2.08,"s":"channel"},{"d":"2012-03-31","v":2.11,"s":"channel"},{"d":"2012-04-17","v":1.90,"s":"channel"},{"d":"2012-04-22","v":1.83,"s":"channel"},{"d":"2012-04-28","v":1.79,"s":"channel"},
      {"d":"2012-05-13","v":1.81,"s":"channel"},{"d":"2012-05-20","v":1.77,"s":"channel"},{"d":"2012-05-28","v":1.79,"s":"channel"},{"d":"2012-06-05","v":1.82,"s":"channel"},{"d":"2012-06-13","v":1.79,"s":"channel"},
      {"d":"2012-06-21","v":1.80,"s":"channel"},{"d":"2012-06-29","v":1.83,"s":"channel"},{"d":"2012-07-07","v":1.81,"s":"channel"},{"d":"2012-07-15","v":1.84,"s":"channel"},{"d":"2012-07-23","v":1.83,"s":"channel"},
      {"d":"2012-07-31","v":1.85,"s":"channel"},{"d":"2012-08-08","v":1.84,"s":"channel"},{"d":"2012-08-16","v":1.87,"s":"channel"},{"d":"2012-08-24","v":1.86,"s":"channel"},{"d":"2012-09-01","v":1.86,"s":"channel"},
      {"d":"2012-09-09","v":1.89,"s":"channel"},{"d":"2012-09-17","v":1.86,"s":"channel"},{"d":"2012-09-25","v":1.90,"s":"channel"},{"d":"2012-10-03","v":1.88,"s":"channel"},{"d":"2012-10-11","v":1.91,"s":"channel"},
      {"d":"2012-10-19","v":1.88,"s":"channel"},{"d":"2012-10-27","v":1.89,"s":"channel"},{"d":"2012-11-04","v":1.87,"s":"channel"},{"d":"2012-11-12","v":1.89,"s":"channel"},{"d":"2012-11-20","v":1.85,"s":"channel"},
      {"d":"2012-11-27","v":1.80,"s":"channel"},{"d":"2012-12-03","v":1.77,"s":"channel"},{"d":"2012-12-10","v":1.83,"s":"channel"},{"d":"2012-12-18","v":1.88,"s":"channel"},{"d":"2012-12-26","v":1.91,"s":"channel"},
      {"d":"2013-01-03","v":1.94,"s":"channel"},{"d":"2013-01-11","v":1.92,"s":"channel"},{"d":"2013-01-19","v":1.93,"s":"channel"},{"d":"2013-01-27","v":1.91,"s":"channel"},{"d":"2013-02-04","v":1.92,"s":"channel"},
      {"d":"2013-02-12","v":1.94,"s":"channel"},{"d":"2013-02-20","v":1.91,"s":"channel"},{"d":"2013-02-28","v":1.88,"s":"channel"},{"d":"2013-03-08","v":1.86,"s":"channel"},{"d":"2013-03-16","v":1.84,"s":"channel"},
      {"d":"2013-03-24","v":1.86,"s":"channel"},{"d":"2013-04-01","v":1.86,"s":"channel"},{"d":"2013-04-09","v":1.84,"s":"channel"},{"d":"2013-04-17","v":1.87,"s":"channel"},{"d":"2013-04-25","v":1.88,"s":"channel"},
      {"d":"2013-05-03","v":1.88,"s":"channel"},{"d":"2013-05-11","v":1.91,"s":"channel"},{"d":"2013-05-19","v":1.87,"s":"channel"},{"d":"2013-05-27","v":1.90,"s":"channel"},{"d":"2013-06-04","v":1.88,"s":"channel"},
      {"d":"2013-06-12","v":1.91,"s":"channel"},{"d":"2013-06-20","v":1.89,"s":"channel"},{"d":"2013-06-28","v":1.90,"s":"channel"},{"d":"2013-07-06","v":1.90,"s":"channel"},{"d":"2013-07-14","v":1.87,"s":"channel"},
      {"d":"2013-07-22","v":1.89,"s":"channel"},{"d":"2013-07-30","v":1.90,"s":"channel"},{"d":"2013-08-07","v":1.92,"s":"channel"},{"d":"2013-08-15","v":1.92,"s":"channel"},{"d":"2013-08-23","v":1.95,"s":"channel"},
      {"d":"2013-08-31","v":1.93,"s":"channel"},{"d":"2013-09-08","v":1.92,"s":"channel"},{"d":"2013-09-16","v":1.94,"s":"channel"},{"d":"2013-09-24","v":1.91,"s":"channel"},{"d":"2013-10-02","v":1.92,"s":"channel"},
      {"d":"2013-10-10","v":1.89,"s":"channel"},{"d":"2013-10-18","v":1.92,"s":"channel"},{"d":"2013-10-26","v":1.90,"s":"channel"},{"d":"2013-11-03","v":1.91,"s":"channel"},{"d":"2013-11-11","v":1.88,"s":"channel"},
      {"d":"2013-11-19","v":1.91,"s":"channel"},{"d":"2013-11-27","v":1.89,"s":"channel"},{"d":"2013-12-05","v":1.90,"s":"channel"},{"d":"2013-12-13","v":1.88,"s":"channel"},{"d":"2013-12-21","v":1.91,"s":"channel"},
      {"d":"2013-12-29","v":1.88,"s":"channel"},
      {"d":"2014-01-06","v":1.91,"s":"channel"},{"d":"2014-01-14","v":1.88,"s":"channel"},{"d":"2014-01-22","v":1.90,"s":"channel"},{"d":"2014-01-30","v":1.88,"s":"channel"},{"d":"2014-02-07","v":1.90,"s":"channel"},
      {"d":"2014-02-15","v":1.91,"s":"channel"},{"d":"2014-02-23","v":1.88,"s":"channel"},{"d":"2014-03-03","v":1.90,"s":"channel"},{"d":"2014-03-11","v":1.88,"s":"channel"},{"d":"2014-03-19","v":1.91,"s":"channel"},
      {"d":"2014-03-27","v":1.89,"s":"channel"},{"d":"2014-04-04","v":1.88,"s":"channel"},{"d":"2014-04-12","v":1.90,"s":"channel"},{"d":"2014-04-20","v":1.89,"s":"channel"},{"d":"2014-04-28","v":1.88,"s":"channel"},
      {"d":"2014-05-06","v":1.90,"s":"channel"},{"d":"2014-05-14","v":1.88,"s":"channel"},{"d":"2014-05-22","v":1.90,"s":"channel"},{"d":"2014-05-30","v":1.89,"s":"channel"},{"d":"2014-06-16","v":2.33,"s":"channel"},
      {"d":"2014-06-24","v":2.30,"s":"channel"},{"d":"2014-07-02","v":2.31,"s":"channel"},{"d":"2014-07-10","v":2.33,"s":"channel"},{"d":"2014-07-18","v":2.29,"s":"channel"},{"d":"2014-07-26","v":2.32,"s":"channel"},
      {"d":"2014-08-03","v":2.30,"s":"channel"},{"d":"2014-08-11","v":2.32,"s":"channel"},{"d":"2014-08-19","v":2.29,"s":"channel"},{"d":"2014-08-27","v":2.33,"s":"channel"},{"d":"2014-09-04","v":2.32,"s":"channel"},
      {"d":"2014-09-22","v":2.31,"s":"channel"},{"d":"2014-09-30","v":2.32,"s":"channel"},{"d":"2014-10-08","v":2.29,"s":"channel"},{"d":"2014-10-16","v":2.32,"s":"channel"},{"d":"2014-10-24","v":2.30,"s":"channel"},
      {"d":"2014-11-01","v":2.30,"s":"channel"},{"d":"2014-11-09","v":2.33,"s":"channel"},{"d":"2014-11-17","v":2.31,"s":"channel"},{"d":"2014-11-25","v":2.34,"s":"channel"},{"d":"2014-12-01","v":2.35,"s":"channel"},
      {"d":"2014-12-08","v":2.32,"s":"channel"},{"d":"2014-12-16","v":2.35,"s":"channel"},{"d":"2014-12-24","v":2.31,"s":"channel"},
      {"d":"2015-01-01","v":2.33,"s":"channel"},{"d":"2015-01-09","v":2.35,"s":"channel"},{"d":"2015-01-16","v":2.31,"s":"channel"},{"d":"2015-01-22","v":2.34,"s":"channel"},{"d":"2015-02-01","v":2.10,"s":"channel"},
      {"d":"2015-02-08","v":2.13,"s":"channel"},{"d":"2015-02-15","v":2.09,"s":"channel"},{"d":"2015-02-22","v":2.12,"s":"channel"},{"d":"2015-03-01","v":2.09,"s":"channel"},{"d":"2015-03-08","v":2.13,"s":"channel"},
      {"d":"2015-03-15","v":2.09,"s":"channel"},{"d":"2015-03-22","v":2.12,"s":"channel"},{"d":"2015-03-29","v":2.10,"s":"channel"},{"d":"2015-04-05","v":2.13,"s":"channel"},{"d":"2015-04-12","v":2.09,"s":"channel"}
    ],
    "ref": [
      {"d":"2006-03-28","v":1.496,"s":"4.1.0"},{"d":"2015-04-16","v":1.496,"s":"4.1.0"},
      {"d":"2006-03-28","v":1.519,"s":"4.1.2"},{"d":"2015-04-16","v":1.519,"s":"4.1.2"},
      {"d":"2006-03-28","v":0.919,"s":"icc-9.0"},{"d":"2015-04-16","v":0.919,"s":"icc-9.0"}
    ]
  },
  "resolve": {"axis": {"x": "independent", "y": "independent"}},
  "layer": [
    {
      "data": {"name": "ch"},
      "mark": {"type": "line", "strokeWidth": 1, "interpolate": "linear"},
      "encoding": {
        "x": {"field": "d", "type": "temporal", "scale": {"type": "utc", "domain": [{"year": 2006, "month": 1, "date": 1, "utc": true}, {"year": 2016, "month": 1, "date": 1, "utc": true}], "nice": false},
              "axis": {"orient": "top", "labels": false, "domain": false, "grid": false, "tickCount": {"interval": "year", "step": 1}, "tickSize": -6, "tickColor": "black", "title": null}},
        "y": {"field": "v", "type": "quantitative", "scale": {"domain": [0, 3.5], "nice": false, "zero": false},
              "axis": {"orient": "right", "labels": false, "domain": false, "grid": false, "values": [0, 0.5, 1, 1.5, 2, 2.5, 3, 3.5], "tickSize": -5, "tickColor": "black", "title": null}},
        "color": {"field": "s", "type": "nominal", "scale": {"domain": ["channel", "4.1.0", "4.1.2", "icc-9.0"], "range": ["#ff0000", "#00c000", "#0080ff", "#c000ff"]},
                  "legend": {"orient": "none", "legendX": 7, "legendY": 3.5, "title": null, "padding": 0, "symbolType": "stroke", "symbolSize": 196, "symbolStrokeWidth": 1, "rowPadding": 0, "labelOffset": -80, "symbolOffset": 65, "labelFont": "DejaVu Sans Mono", "labelFontSize": 11.5, "labelFontWeight": "bold", "labelColor": "black", "labelAlign": "left", "labelBaseline": "middle",
                             "encode": {"symbols": {"update": {"shape": {"signal": "datum.value === 'channel' ? 'M-2.36,0H2.36M0,-0.5V0.5' : 'M-2.36,0H2.36'"}, "fill": {"value": "transparent"}}}}}}
      }
    },
    {
      "data": {"name": "ch"},
      "mark": {"type": "point", "shape": "M-1,0H1M0,-1V1", "size": 72, "filled": false, "strokeWidth": 1, "opacity": 1},
      "encoding": {
        "x": {"field": "d", "type": "temporal", "axis": {"orient": "bottom", "labels": false, "domain": false, "grid": false, "tickCount": {"interval": "month", "step": 3}, "tickSize": -3, "tickColor": "black", "title": null}},
        "y": {"field": "v", "type": "quantitative", "axis": null},
        "color": {"field": "s", "type": "nominal", "scale": {"domain": ["channel", "4.1.0", "4.1.2", "icc-9.0"], "range": ["#ff0000", "#00c000", "#0080ff", "#c000ff"]}}
      }
    },
    {
      "data": {"name": "ref"},
      "transform": [{"filter": "datum.s !== 'icc-9.0'"}],
      "mark": {"type": "line", "strokeWidth": 1},
      "encoding": {
        "x": {"field": "d", "type": "temporal",
              "axis": {"orient": "bottom", "domain": false, "grid": false, "tickCount": {"interval": "year", "step": 1}, "tickSize": -6, "tickColor": "black", "labelPadding": 14, "labelFlush": false, "labelOverlap": false, "labelBound": false,
                       "labelExpr": "utcFormat(datum.value, '%m/%d/%y')", "labelFont": "DejaVu Sans Mono", "labelFontSize": 11.5, "labelFontWeight": "bold", "labelColor": "black", "title": null}},
        "y": {"field": "v", "type": "quantitative",
              "axis": {"orient": "left", "domain": false, "grid": false, "values": [0, 0.5, 1, 1.5, 2, 2.5, 3, 3.5], "format": "~g", "tickSize": -5, "tickColor": "black", "labelPadding": 13, "labelFont": "DejaVu Sans Mono", "labelFontSize": 11.5, "labelFontWeight": "bold", "labelColor": "black",
                       "title": "s", "titleFont": "DejaVu Sans Mono", "titleFontSize": 11.5, "titleFontWeight": "bold", "titleColor": "black", "titleAngle": -90, "titleX": -49, "titleY": 207, "titleAlign": "center", "titleBaseline": "middle"}},
        "color": {"field": "s", "type": "nominal", "scale": {"domain": ["channel", "4.1.0", "4.1.2", "icc-9.0"], "range": ["#ff0000", "#00c000", "#0080ff", "#c000ff"]}}
      }
    },
    {
      "data": {"name": "ref"},
      "transform": [{"filter": "datum.s === 'icc-9.0'"}],
      "mark": {"type": "line", "strokeWidth": 1},
      "encoding": {
        "x": {"field": "d", "type": "temporal", "axis": {"orient": "top", "labels": false, "domain": false, "grid": false, "tickCount": {"interval": "month", "step": 3}, "tickSize": -3, "tickColor": "black", "title": null}},
        "y": {"field": "v", "type": "quantitative", "axis": null},
        "color": {"field": "s", "type": "nominal", "scale": {"domain": ["channel", "4.1.0", "4.1.2", "icc-9.0"], "range": ["#ff0000", "#00c000", "#0080ff", "#c000ff"]}}
      }
    }
  ],
  "config": {
    "view": {"stroke": "black", "strokeWidth": 1},
    "axis": {"grid": false, "domain": false, "tickColor": "black", "tickWidth": 1}
  }
}
